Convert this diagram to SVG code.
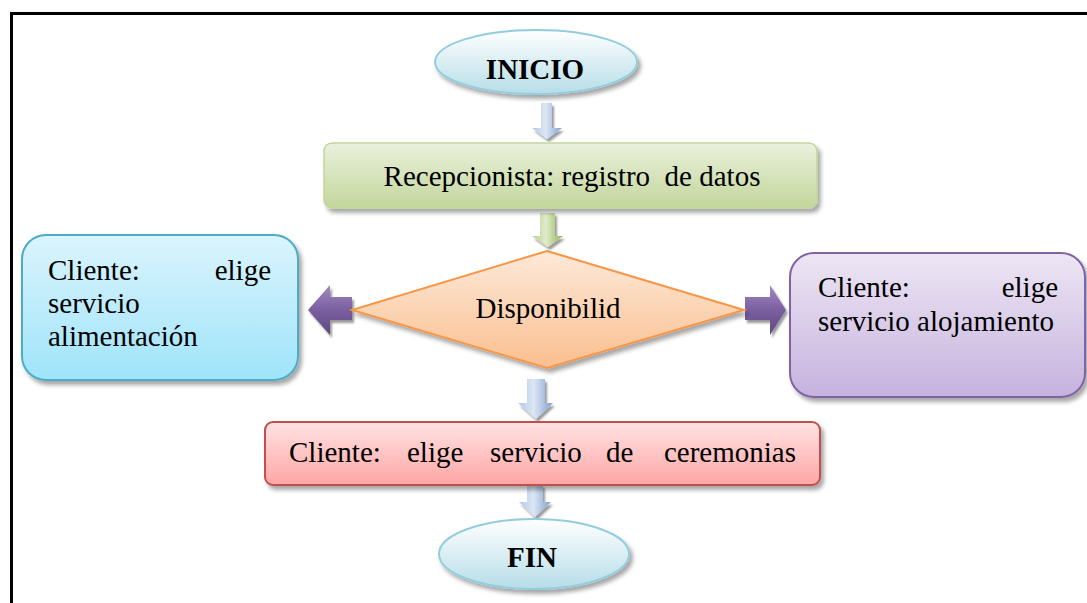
<svg xmlns="http://www.w3.org/2000/svg" width="1087" height="603" viewBox="0 0 1087 603">
<defs>
<linearGradient id="gBlueEll" x1="0" y1="0" x2="0" y2="1"><stop offset="0" stop-color="#ffffff"/><stop offset="1" stop-color="#b6dde8"/></linearGradient>
<linearGradient id="gGreen" x1="0" y1="0" x2="0" y2="1"><stop offset="0" stop-color="#eaf1dd"/><stop offset="1" stop-color="#c3d69b"/></linearGradient>
<linearGradient id="gOrange" x1="0" y1="0" x2="0" y2="1"><stop offset="0" stop-color="#fde9d9"/><stop offset="1" stop-color="#fabf8f"/></linearGradient>
<linearGradient id="gCyan" x1="0" y1="0" x2="0" y2="1"><stop offset="0" stop-color="#dbf4fd"/><stop offset="1" stop-color="#9fe4fa"/></linearGradient>
<linearGradient id="gPurple" x1="0" y1="0" x2="0" y2="1"><stop offset="0" stop-color="#ede6f4"/><stop offset="1" stop-color="#c6b2de"/></linearGradient>
<linearGradient id="gRed" x1="0" y1="0" x2="0" y2="1"><stop offset="0" stop-color="#ffe3e3"/><stop offset="1" stop-color="#ffa5a5"/></linearGradient>
<linearGradient id="gArrBlue" x1="0" y1="0" x2="1" y2="0"><stop offset="0" stop-color="#b0c7e6"/><stop offset="0.45" stop-color="#dde7f4"/><stop offset="1" stop-color="#7f9fcf"/></linearGradient>
<linearGradient id="gArrGreen" x1="0" y1="0" x2="1" y2="0"><stop offset="0" stop-color="#b9cf8c"/><stop offset="0.45" stop-color="#e0ebcb"/><stop offset="1" stop-color="#92b450"/></linearGradient>
<linearGradient id="gArrPurple" x1="0" y1="0" x2="0" y2="1"><stop offset="0" stop-color="#a28bc0"/><stop offset="0.5" stop-color="#7a5fa0"/><stop offset="1" stop-color="#5f4880"/></linearGradient>
<filter id="sh" x="-10%" y="-20%" width="130%" height="150%"><feDropShadow dx="3" dy="4" stdDeviation="2" flood-color="#000" flood-opacity="0.35"/></filter>
<filter id="shs" x="-30%" y="-30%" width="160%" height="160%"><feDropShadow dx="2" dy="3" stdDeviation="1.2" flood-color="#000" flood-opacity="0.4"/></filter>
</defs>
<style>
.t{font-family:"Liberation Serif","Times New Roman",serif;font-size:29px;fill:#000;}
.b{font-weight:bold;font-size:29px;}
</style>
<rect width="1087" height="603" fill="#ffffff"/>
<path d="M11.5,603 V13.5 H1087" fill="none" stroke="#000" stroke-width="3"/>

<g id="connectors">
<polygon filter="url(#shs)" fill="url(#gArrBlue)" points="541,103 552,103 552,128 562,128 547,139 532,128 541,128"/>
<polygon filter="url(#shs)" fill="url(#gArrGreen)" points="540,213 555,213 555,236 563,236 548,247 532,236 540,236"/>
<polygon filter="url(#shs)" fill="url(#gArrPurple)" points="352,297 330,297 330,285 308,310 330,335 330,320 352,320"/>
<polygon filter="url(#shs)" fill="url(#gArrPurple)" points="745,297 770,297 770,285 786,310 770,335 770,320 745,320"/>
<polygon filter="url(#shs)" fill="url(#gArrBlue)" points="527,379 545,379 545,403 553,403 536,419 518,403 527,403"/>
<polygon filter="url(#shs)" fill="url(#gArrBlue)" points="527,485 543,485 543,502 551,502 535,517 519,502 527,502"/>
</g>

<g id="inicio">
<ellipse cx="536" cy="62" rx="101" ry="32" fill="url(#gBlueEll)" stroke="#93cddd" stroke-width="2" filter="url(#sh)"/>
<text class="t b" x="535" y="79" text-anchor="middle">INICIO</text>
</g>

<g id="recepcionista">
<rect x="324" y="143" width="493" height="65" rx="8" fill="url(#gGreen)" stroke="#c3d69b" stroke-width="1.5" filter="url(#sh)"/>
<text class="t" x="572" y="186" text-anchor="middle" xml:space="preserve">Recepcionista: registro  de datos</text>
</g>

<g id="disponibilidad">
<polygon points="547,251 744,310 547,368 352,310" fill="url(#gOrange)" stroke="#f79646" stroke-width="2" filter="url(#sh)"/>
<text class="t" x="548" y="318" text-anchor="middle">Disponibilid</text>
</g>

<g id="alimentacion">
<rect x="22" y="235" width="276" height="145" rx="24" fill="url(#gCyan)" stroke="#4bacc6" stroke-width="2" filter="url(#sh)"/>
<text class="t" x="48" y="280">Cliente:</text>
<text class="t" x="271" y="280" text-anchor="end">elige</text>
<text class="t" x="48" y="313">servicio</text>
<text class="t" x="48" y="346">alimentación</text>
</g>

<g id="alojamiento">
<rect x="790" y="253" width="295" height="144" rx="24" fill="url(#gPurple)" stroke="#8064a2" stroke-width="2" filter="url(#sh)"/>
<text class="t" x="818" y="297">Cliente:</text>
<text class="t" x="1058" y="297" text-anchor="end">elige</text>
<text class="t" x="818" y="331">servicio alojamiento</text>
</g>

<g id="ceremonias">
<rect x="265" y="422" width="555" height="63" rx="8" fill="url(#gRed)" stroke="#c0504d" stroke-width="2" filter="url(#sh)"/>
<text class="t" x="289" y="462">Cliente:</text>
<text class="t" x="407" y="462">elige</text>
<text class="t" x="490" y="462">servicio</text>
<text class="t" x="606" y="462">de</text>
<text class="t" x="796" y="462" text-anchor="end">ceremonias</text>
</g>

<g id="fin">
<ellipse cx="534" cy="554" rx="95" ry="35" fill="url(#gBlueEll)" stroke="#93cddd" stroke-width="2" filter="url(#sh)"/>
<text class="t b" x="532" y="567" text-anchor="middle">FIN</text>
</g>
</svg>
